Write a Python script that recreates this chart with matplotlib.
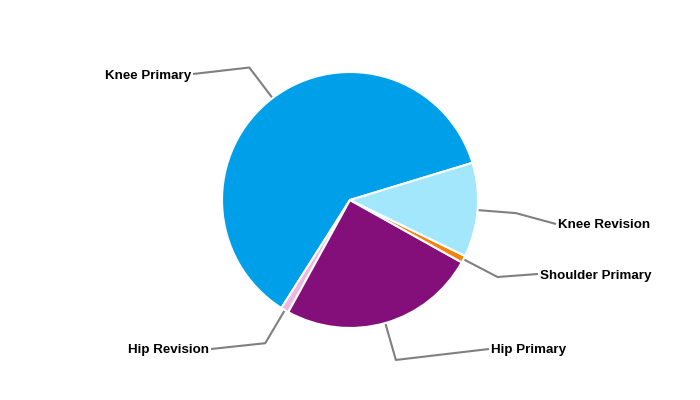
import numpy as np
import matplotlib
matplotlib.use("Agg")
import matplotlib.pyplot as plt

# slice data, counter-clockwise from the start angle
labels = ["Knee Primary", "Hip Revision", "Hip Primary", "Shoulder Primary", "Knee Revision"]
shares = [61.3, 1.0, 24.9, 0.9, 11.9]
colors = ["#009fe9", "#f2b3df", "#850f7a", "#f5820d", "#a3e7fc"]

# label anchor points in pixels (x, y from top) and alignment
label_pos = [(191, 74), (209, 349), (491, 349), (540, 274), (558, 224)]
label_ha = ["right", "right", "left", "left", "left"]

W, H = 700, 400
cx, cy, R = 350, 200, 128
start = 16.9

fig = plt.figure(figsize=(7, 4), dpi=100)
ax = fig.add_axes([0, 0, 1, 1])
ax.set_xlim(0, W)
ax.set_ylim(0, H)
ax.axis("off")

wedges, _ = ax.pie(shares, colors=colors, startangle=start, counterclock=True,
                   center=(cx, H - cy), radius=R, normalize=True,
                   wedgeprops=dict(edgecolor="white", linewidth=1.5))
ax.set_xlim(0, W)
ax.set_ylim(0, H)
ax.set_aspect("equal")

# leader lines: from wedge middle on the rim, out radially, then to the label
for w, lab, (lx, ly), ha in zip(wedges, labels, label_pos, label_ha):
    mid = np.deg2rad((w.theta1 + w.theta2) / 2)
    x0 = cx + R * np.cos(mid)
    y0 = (H - cy) + R * np.sin(mid)
    x1 = cx + 1.3 * R * np.cos(mid)
    y1 = (H - cy) + 1.3 * R * np.sin(mid)
    x2 = lx + (2 if ha == "right" else -2)
    ax.plot([x0, x1, x2], [y0, y1, H - ly], color="#808080", lw=1.5,
            solid_capstyle="butt", zorder=0)
    ax.text(lx, H - ly - 1.5, lab, ha=ha, va="center", fontsize=9.6, fontweight="bold",
            family=["Liberation Sans", "DejaVu Sans"], color="black")

fig.savefig("out.png", dpi=100, facecolor="white")
